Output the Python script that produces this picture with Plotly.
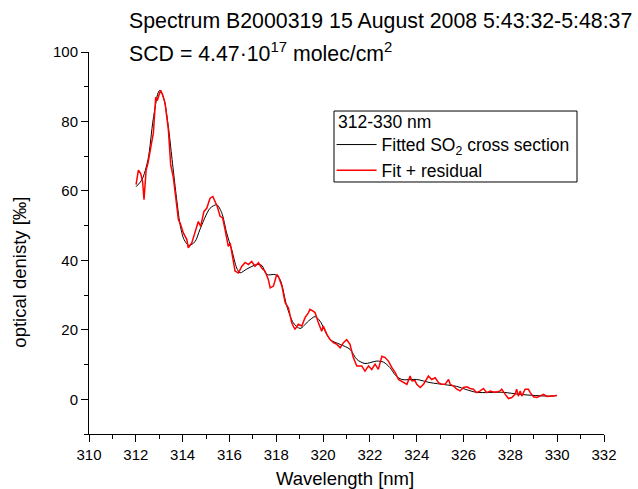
import plotly.graph_objects as go

# ---- data ----
fit_wl = [312.01, 312.26, 312.52, 312.74, 312.95, 313.03, 313.21, 313.38, 313.55, 313.72,
          313.89, 314.06, 314.27, 314.53, 314.74, 315.17, 315.46, 315.67, 315.88, 316.10,
          316.31, 316.45, 316.74, 317.17, 317.39, 317.59, 317.95, 318.16, 318.45, 318.73,
          319.02, 319.37, 319.66, 319.87, 320.30, 320.73, 321.15, 321.44, 321.79, 322.29,
          322.58, 322.86, 323.08, 323.36, 324.00, 324.57, 325.21, 325.71, 326.11, 326.56,
          327.69, 328.42, 329.70, 329.99]
fit_od = [61.2, 63.2, 69.0, 80.5, 88.2, 89.0, 86.2, 79.0, 69.0, 59.0,
          50.3, 46.0, 44.3, 45.4, 48.9, 55.0, 56.0, 53.7, 47.9, 43.0,
          37.8, 36.4, 37.5, 38.8, 38.5, 35.9, 35.9, 34.5, 26.8, 22.0,
          20.4, 22.5, 23.8, 22.5, 17.2, 15.8, 14.4, 11.5, 10.3, 11.0,
          10.7, 9.1, 7.0, 5.7, 5.7, 4.8, 4.2, 3.7, 2.8, 2.0,
          2.0, 1.4, 0.9, 1.1]

res_wl = [312.01, 312.11, 312.21, 312.29, 312.35, 312.39, 312.44, 312.52, 312.61, 312.75,
          312.85, 312.92, 312.99, 313.06, 313.15, 313.25, 313.39, 313.49, 313.60, 313.82,
          313.89, 314.03, 314.18, 314.24, 314.39, 314.53, 314.67, 314.77, 314.91, 315.03,
          315.17, 315.29, 315.38, 315.48, 315.60, 315.71, 315.81, 315.95, 316.03, 316.14,
          316.24, 316.38, 316.53, 316.67, 316.81, 316.95, 317.09, 317.24, 317.38, 317.52,
          317.66, 317.74, 317.88, 318.02, 318.09, 318.24, 318.38, 318.52, 318.66, 318.80,
          318.94, 319.09, 319.23, 319.37, 319.44, 319.59, 319.66, 319.80, 319.94, 320.01,
          320.16, 320.30, 320.44, 320.59, 320.73, 320.87, 321.01, 321.15, 321.29, 321.44,
          321.65, 321.79, 321.94, 322.08, 322.22, 322.36, 322.51, 322.65, 322.79, 322.94,
          323.08, 323.22, 323.43, 323.58, 323.72, 323.79, 323.93, 324.00, 324.15, 324.29,
          324.50, 324.64, 324.79, 324.93, 325.07, 325.21, 325.36, 325.43, 325.57, 325.71,
          325.85, 326.00, 326.14, 326.28, 326.42, 326.56, 326.71, 326.85, 326.99, 327.14,
          327.28, 327.42, 327.56, 327.63, 327.78, 327.92, 328.06, 328.20, 328.27, 328.34,
          328.42, 328.49, 328.63, 328.77, 328.85, 328.99, 329.13, 329.27, 329.42, 329.56,
          329.70, 329.84, 329.99]
res_od = [61.8, 66.0, 65.0, 62.7, 57.5, 62.2, 66.0, 68.0, 71.3, 76.7,
          87.0, 86.0, 87.6, 89.0, 87.6, 85.3, 77.6, 67.5, 64.0, 51.7,
          50.8, 47.9, 46.0, 43.6, 45.0, 47.9, 51.2, 49.8, 54.1, 55.0,
          57.9, 58.4, 57.0, 55.5, 52.7, 52.2, 48.9, 44.0, 45.0, 41.2,
          36.9, 36.4, 38.3, 39.4, 38.8, 39.7, 38.3, 39.3, 37.8, 36.9,
          34.5, 32.1, 32.6, 35.9, 35.4, 32.6, 27.8, 26.3, 22.0, 20.1,
          21.6, 21.1, 23.5, 24.9, 25.9, 25.3, 24.9, 22.0, 19.6, 21.1,
          18.7, 17.2, 16.3, 15.8, 14.8, 16.3, 17.2, 15.8, 12.0, 9.6,
          9.6, 8.1, 9.6, 8.6, 10.1, 8.6, 12.4, 12.0, 11.0, 9.1,
          7.7, 5.7, 4.8, 4.3, 6.7, 5.3, 5.3, 4.3, 3.4, 4.3,
          6.7, 5.7, 6.2, 4.8, 4.3, 4.3, 5.7, 4.3, 3.8, 2.9,
          2.4, 3.4, 3.6, 3.1, 2.9, 1.9, 2.4, 3.1, 1.9, 2.4,
          2.1, 2.1, 2.4, 2.9, 1.4, 0.2, 0.5, 1.4, 2.9, 0.9,
          2.4, 0.9, 2.9, 2.9, 1.9, 0.7, 0.5, 0.9, 1.4, 0.8,
          0.9, 0.9, 1.1]

x_ticks = [310, 312, 314, 316, 318, 320, 322, 324, 326, 328, 330, 332]
y_ticks = [0, 20, 40, 60, 80, 100]

FONT = "Arial, Liberation Sans, sans-serif"

fig = go.Figure()
fig.add_trace(go.Scatter(x=fit_wl, y=fit_od, mode="lines",
                         line=dict(color="black", width=1, shape="spline", smoothing=0.8),
                         name="Fitted SO<sub>2</sub> cross section"))
fig.add_trace(go.Scatter(x=res_wl, y=res_od, mode="lines",
                         line=dict(color="#ff0000", width=1.5),
                         name="Fit + residual"))

fig.update_layout(
    width=638, height=489,
    margin=dict(l=89, r=34, t=52, b=55, autoexpand=False),
    paper_bgcolor="white", plot_bgcolor="white",
    font=dict(family=FONT, color="black", size=15),
    showlegend=True,
    legend=dict(
        x=0.471, y=0.8045, xanchor="left", yanchor="top",
        borderwidth=0, bgcolor="rgba(0,0,0,0)",
        font=dict(size=17.5, family=FONT),
        traceorder="normal", itemwidth=40,
    ),
    shapes=[
        dict(type="rect", xref="paper", yref="paper",
             x0=0.4757, x1=0.9476, y0=0.6597, y1=0.8455,
             line=dict(color="black", width=1), fillcolor="white", layer="above"),
    ],
    annotations=[
        dict(text="Spectrum B2000319 15 August 2008 5:43:32-5:48:37",
             xref="paper", yref="paper", x=0.0738, y=1.08,
             xanchor="left", yanchor="middle", showarrow=False,
             font=dict(size=21.3, family=FONT)),
        dict(text="SCD = 4.47·10<sup>17</sup> molec/cm<sup>2</sup>",
             xref="paper", yref="paper", x=0.0738, y=0.998,
             xanchor="left", yanchor="middle", showarrow=False,
             font=dict(size=21.3, family=FONT)),
        dict(text="312-330 nm",
             xref="paper", yref="paper", x=0.479, y=0.8168,
             xanchor="left", yanchor="middle", showarrow=False,
             font=dict(size=17.5, family=FONT)),
        dict(text="optical denisty [‰]",
             xref="paper", yref="paper", x=-0.134, y=0.425,
             xanchor="center", yanchor="middle", textangle=-90, showarrow=False,
             font=dict(size=18.5, family=FONT)),
        dict(text="Wavelength [nm]",
             xref="paper", yref="paper", x=0.497, y=-0.117,
             xanchor="center", yanchor="middle", showarrow=False,
             font=dict(size=18.5, family=FONT)),
    ],
)

fig.update_xaxes(
    range=[310, 332], tickvals=x_ticks, ticktext=[str(v) for v in x_ticks],
    ticks="outside", ticklen=7, tickwidth=1, tickcolor="black",
    minor=dict(dtick=1, ticks="outside", ticklen=4, tickcolor="black", tickwidth=1),
    showline=True, linecolor="black", linewidth=1, mirror=False,
    showgrid=False, zeroline=False, automargin=False,
    tickfont=dict(size=15),
)
fig.update_yaxes(
    range=[-10, 100], tickvals=y_ticks, ticktext=[str(v) for v in y_ticks],
    ticks="outside", ticklen=7, tickwidth=1, tickcolor="black",
    minor=dict(dtick=10, tick0=0, ticks="outside", ticklen=4, tickcolor="black", tickwidth=1),
    showline=True, linecolor="black", linewidth=1, mirror=False,
    showgrid=False, zeroline=False, automargin=False,
    tickfont=dict(size=15),
)

fig.write_html("out.html")
